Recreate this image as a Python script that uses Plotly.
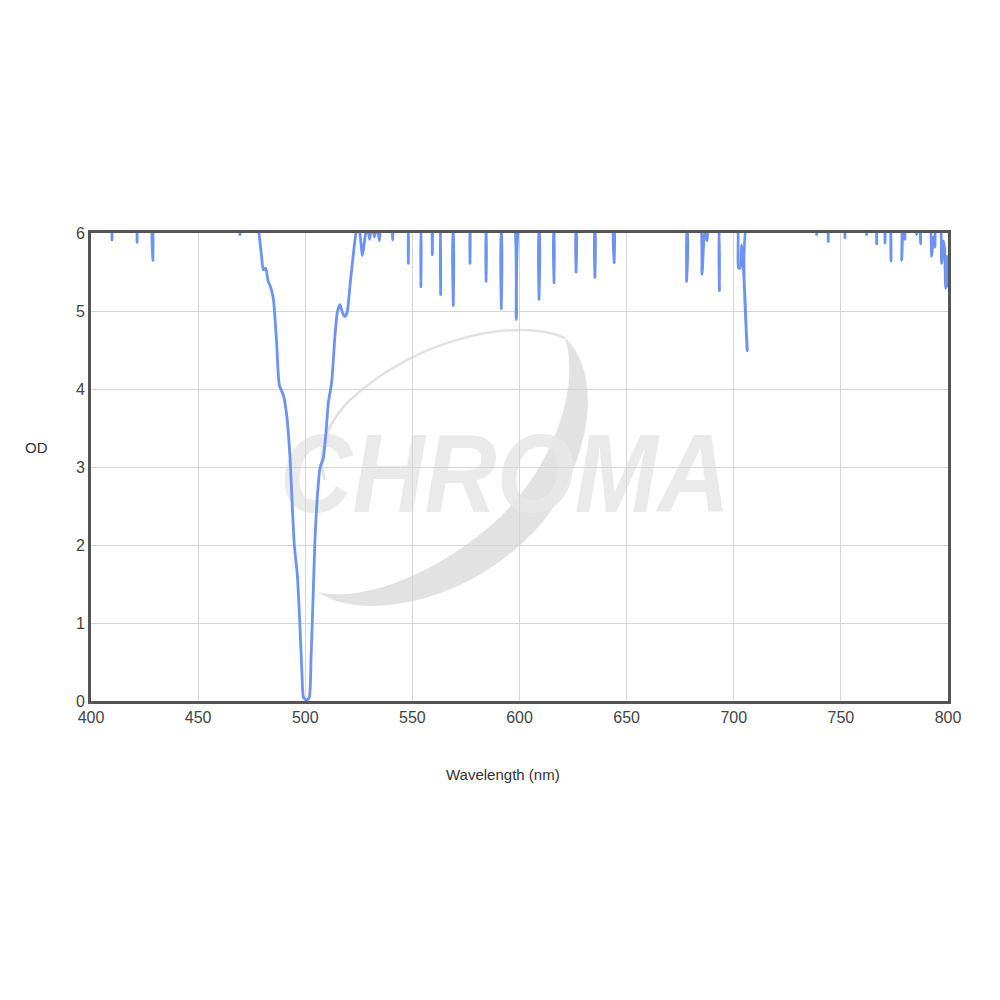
import base64
import plotly.graph_objects as go

# Wavelength (nm) and optical density; values above 6 are off-scale (clipped)
wavelength = [
    400.0, 409.0, 409.8, 410.6, 420.8, 421.5, 422.2, 428.1, 428.9, 429.7,
    469.0, 469.5, 470.0, 477.6, 478.4, 479.7, 480.4, 481.5, 482.7, 483.8,
    485.1, 486.6, 487.9, 489.8, 491.3, 492.9, 494.0, 494.9, 496.3, 497.5,
    498.5, 499.1, 500.0, 500.7, 501.9, 502.7, 503.5, 504.5, 505.8, 506.9,
    508.4, 509.7, 510.8, 512.3, 513.9, 515.0, 516.2, 517.5, 518.6, 519.6,
    520.9, 522.4, 523.7, 525.0, 526.7, 527.9, 529.0, 530.0, 531.2, 532.3,
    533.5, 534.6, 535.8, 540.0, 540.8, 541.6, 547.3, 548.1, 548.9, 553.1,
    554.0, 554.9, 558.5, 559.3, 560.1, 562.3, 563.2, 564.1, 568.2, 569.1,
    570.0, 576.1, 576.9, 577.7, 583.5, 584.4, 585.3, 590.6, 591.5, 592.4,
    597.0, 598.5, 600.6, 608.2, 609.1, 610.0, 615.2, 616.1, 617.0, 625.6,
    626.4, 627.2, 634.4, 635.2, 636.0, 643.5, 644.2, 644.9, 676.9, 678.0,
    679.0, 684.0, 685.2, 686.4, 687.6, 688.4, 692.2, 693.3, 694.3, 701.2,
    702.2, 703.0, 703.7, 705.2, 706.3, 707.3, 738.2, 738.7, 739.2, 743.5,
    744.1, 744.7, 751.4, 751.9, 752.4, 761.5, 762.0, 762.5, 766.1, 766.7,
    767.3, 770.0, 770.6, 771.2, 772.8, 773.4, 774.0, 777.8, 778.4, 779.1,
    779.9, 780.5, 785.0, 785.4, 785.8, 786.6, 787.2, 787.8, 791.2, 792.4,
    793.2, 793.9, 794.5, 796.2, 797.0, 797.8, 798.4, 798.9, 799.5, 800.0,
]
od = [
    6.2, 6.2, 5.91, 6.2, 6.2, 5.88, 6.2, 6.2, 5.65, 6.2,
    6.2, 5.98, 6.2, 6.2, 6.0, 5.68, 5.53, 5.55, 5.38, 5.31,
    5.16, 4.61, 4.05, 3.92, 3.67, 3.12, 2.47, 2.0, 1.62, 0.97,
    0.33, 0.05, 0.02, 0.01, 0.05, 0.55, 1.19, 2.04, 2.68, 2.99,
    3.11, 3.45, 3.83, 4.08, 4.69, 4.99, 5.08, 4.97, 4.93, 4.99,
    5.33, 5.72, 6.0, 6.1, 5.71, 5.95, 6.1, 5.92, 6.1, 5.95,
    6.1, 5.9, 6.2, 6.2, 5.91, 6.2, 6.2, 5.61, 6.2, 6.2,
    5.31, 6.2, 6.2, 5.72, 6.2, 6.2, 5.21, 6.2, 6.2, 5.07,
    6.2, 6.2, 5.61, 6.2, 6.2, 5.38, 6.2, 6.2, 5.03, 6.2,
    6.2, 4.89, 6.2, 6.2, 5.15, 6.2, 6.2, 5.36, 6.2, 6.2,
    5.50, 6.2, 6.2, 5.43, 6.2, 6.2, 5.62, 6.2, 6.2, 5.38,
    6.2, 6.2, 5.47, 6.0, 5.9, 6.2, 6.2, 5.26, 6.2, 6.2,
    5.55, 5.55, 5.85, 5.2, 4.49, 6.2, 6.2, 5.98, 6.2, 6.2,
    5.89, 6.2, 6.2, 5.94, 6.2, 6.2, 5.98, 6.2, 6.2, 5.86,
    6.2, 6.2, 5.87, 6.2, 6.2, 5.64, 6.2, 6.2, 5.65, 6.2,
    5.92, 6.2, 6.2, 5.98, 6.2, 6.2, 5.86, 6.2, 6.2, 5.70,
    5.95, 5.82, 6.2, 6.2, 5.61, 5.9, 5.8, 5.29, 5.7, 5.3,
]

x_ticks = [400, 450, 500, 550, 600, 650, 700, 750, 800]
y_ticks = [0, 1, 2, 3, 4, 5, 6]

FONT = "Liberation Sans, Arial, sans-serif"

# Watermark logo (decorative), drawn in page-pixel space of the plot area
svg = """<svg xmlns='http://www.w3.org/2000/svg' width='857' height='468' viewBox='91 233 857 468' preserveAspectRatio='none'>
<path d='M 318 592 C 360 622 470 605 540 525 C 590 465 605 375 565 338 C 582 392 548 478 488 528 C 428 578 360 602 318 592 Z' fill='#e2e2e2'/>
<path d='M 565 338 C 520 318 420 335 350 400 C 320 430 318 460 325 480' fill='none' stroke='#e2e2e2' stroke-width='2.5'/>
<text x='280' y='512' textLength='450' lengthAdjust='spacingAndGlyphs' font-family='Liberation Sans, Arial, sans-serif' font-weight='bold' font-style='italic' font-size='112' fill='#e8e8e8' fill-opacity='0.9'>CHROMA</text>
</svg>"""
svg_uri = "data:image/svg+xml;base64," + base64.b64encode(svg.encode()).decode()

fig = go.Figure()
fig.add_trace(go.Scatter(
    x=wavelength, y=od, mode="lines",
    line=dict(color="#6c93f3", width=2.8, shape="spline", smoothing=0.6),
    hoverinfo="skip", showlegend=False,
))

fig.update_layout(
    width=1000, height=1000,
    margin=dict(l=83, r=60, t=225, b=307),
    paper_bgcolor="white", plot_bgcolor="white",
    font=dict(family=FONT, color="#444444", size=16),
    images=[dict(source=svg_uri, xref="paper", yref="paper", x=0, y=1,
                 sizex=1, sizey=1, xanchor="left", yanchor="top",
                 sizing="stretch", layer="below")],
    annotations=[
        dict(text="OD", xref="paper", yref="paper", x=-0.064, y=0.541,
             xanchor="center", yanchor="middle", showarrow=False,
             font=dict(family=FONT, size=15, color="#333333")),
        dict(text="Wavelength (nm)", xref="paper", yref="paper", x=0.481, y=-0.158,
             xanchor="center", yanchor="middle", showarrow=False,
             font=dict(family=FONT, size=15, color="#333333")),
    ],
)
fig.update_xaxes(
    range=[400, 800], tickvals=x_ticks, ticktext=[str(v) for v in x_ticks],
    showgrid=True, gridcolor="#d6d6d6", gridwidth=1,
    showline=True, linecolor="#555555", linewidth=3, mirror=True,
    ticks="", zeroline=False, tickfont=dict(size=16, color="#444444"),
)
fig.update_yaxes(
    range=[0, 6], tickvals=y_ticks, ticktext=[str(v) for v in y_ticks],
    showgrid=True, gridcolor="#d6d6d6", gridwidth=1,
    showline=True, linecolor="#555555", linewidth=3, mirror=True,
    ticks="", zeroline=False, tickfont=dict(size=16, color="#444444"),
)

fig.write_html("out.html")
